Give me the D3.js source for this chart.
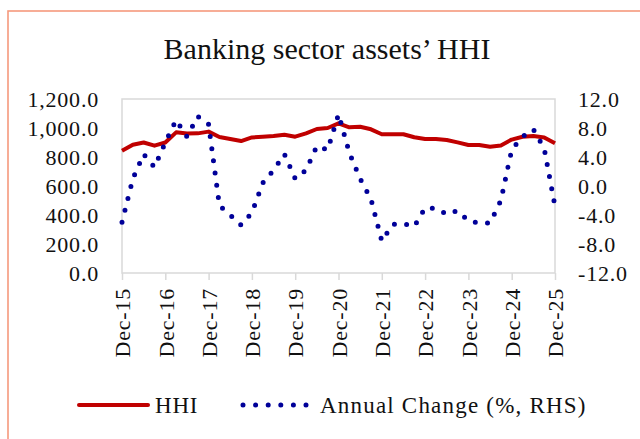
<!DOCTYPE html>
<html>
<head>
<meta charset="utf-8">
<script src="https://cdn.jsdelivr.net/npm/d3@7"></script>
<style>
  html, body { margin: 0; padding: 0; background: #fff; }
  text { font-family: "Liberation Serif", "Times New Roman", serif; fill: #111; }
</style>
</head>
<body>
<svg id="chart" width="640" height="439"></svg>
<script>
// Quarterly observations, Dec-15 .. Dec-25
const quarters = [
  "Dec-15","Mar-16","Jun-16","Sep-16","Dec-16","Mar-17","Jun-17","Sep-17",
  "Dec-17","Mar-18","Jun-18","Sep-18","Dec-18","Mar-19","Jun-19","Sep-19",
  "Dec-19","Mar-20","Jun-20","Sep-20","Dec-20","Mar-21","Jun-21","Sep-21",
  "Dec-21","Mar-22","Jun-22","Sep-22","Dec-22","Mar-23","Jun-23","Sep-23",
  "Dec-23","Mar-24","Jun-24","Sep-24","Dec-24","Mar-25","Jun-25","Sep-25",
  "Dec-25"
];

const hhi = [
  843, 885, 900, 878, 900, 970, 962, 963,
  975, 938, 924, 910, 935, 940, 945, 954,
  940, 963, 993, 1000, 1032, 1005, 1009, 991,
  957, 957, 957, 936, 924, 924, 917, 901,
  883, 883, 871, 880, 920, 940, 945, 935,
  894
];

const annualChange = [
  -5.0, 1.0, 4.4, 2.6, 6.0, 9.1, 6.8, 9.6,
  8.5, -2.7, -4.0, -5.4, -3.7, 0.4, 2.2, 4.4,
  1.0, 2.2, 5.5, 5.0, 9.9, 4.6, 1.0, -1.8,
  -7.6, -5.3, -5.2, -5.6, -3.0, -3.1, -3.9, -3.4,
  -4.8, -5.1, -5.1, -2.0, 5.0, 6.8, 7.8, 5.2,
  -2.8
];

const xTickLabels = ["Dec-15","Dec-16","Dec-17","Dec-18","Dec-19","Dec-20","Dec-21","Dec-22","Dec-23","Dec-24","Dec-25"];
const leftTicks = [0, 200, 400, 600, 800, 1000, 1200];
const rightTicks = [-12, -8, -4, 0, 4, 8, 12];

const svg = d3.select("#chart");
const plot = { left: 122, right: 555, top: 99, bottom: 273 };

// outer frame (only the left and top edges fall inside the picture)
svg.append("rect")
  .attr("x", 8).attr("y", 11)
  .attr("width", 700).attr("height", 500)
  .attr("fill", "none")
  .attr("stroke", "#F6997D")
  .attr("stroke-width", 1.6);

// title
svg.append("text")
  .attr("x", 327).attr("y", 59)
  .attr("text-anchor", "middle")
  .attr("font-size", 30)
  .text("Banking sector assets\u2019 HHI");

const x = d3.scalePoint().domain(quarters).range([plot.left, plot.right]);
const yLeft = d3.scaleLinear().domain([0, 1200]).range([plot.bottom, plot.top]);
const yRight = d3.scaleLinear().domain([-12, 12]).range([plot.bottom, plot.top]);

// plot area border
svg.append("rect")
  .attr("x", plot.left).attr("y", plot.top)
  .attr("width", plot.right - plot.left).attr("height", plot.bottom - plot.top)
  .attr("fill", "none")
  .attr("stroke", "#D9D9D9")
  .attr("stroke-width", 1.5);

// left axis labels
const fmtLeft = d3.format(",.1f");
svg.append("g").selectAll("text")
  .data(leftTicks)
  .join("text")
  .attr("x", 99)
  .attr("y", d => yLeft(d))
  .attr("dy", "0.35em")
  .attr("text-anchor", "end")
  .attr("font-size", 22)
  .attr("letter-spacing", 0.8)
  .text(d => fmtLeft(d));

// right axis labels
const fmtRight = d3.format(".1f");
svg.append("g").selectAll("text")
  .data(rightTicks)
  .join("text")
  .attr("x", 578)
  .attr("y", d => yRight(d))
  .attr("dy", "0.35em")
  .attr("font-size", 22)
  .attr("letter-spacing", 0.8)
  .text(d => fmtRight(d).replace("\u2212", "-"));

// bottom axis: ticks and rotated labels
const xAxis = d3.axisBottom(x)
  .tickValues(xTickLabels)
  .tickSize(7)
  .tickPadding(9);

const gx = svg.append("g")
  .attr("transform", `translate(0,${plot.bottom})`)
  .call(xAxis);
gx.select(".domain").remove();
gx.selectAll(".tick line").attr("stroke", "#D9D9D9").attr("stroke-width", 1.5);
gx.selectAll(".tick text")
  .attr("font-family", "Liberation Serif, serif")
  .attr("font-size", 22)
  .attr("letter-spacing", 0.8)
  .attr("fill", "#111")
  .attr("transform", "rotate(-90)")
  .attr("text-anchor", "end")
  .attr("x", -15)
  .attr("y", 0)
  .attr("dy", "0.35em");

// HHI line
const hhiLine = d3.line()
  .x((d, i) => x(quarters[i]))
  .y(d => yLeft(d));

svg.append("path")
  .datum(hhi)
  .attr("d", hhiLine)
  .attr("fill", "none")
  .attr("stroke", "#C00000")
  .attr("stroke-width", 4)
  .attr("stroke-linejoin", "round");

// annual change, round-dot line
const chgLine = d3.line()
  .x((d, i) => x(quarters[i]))
  .y(d => yRight(d));

svg.append("path")
  .datum(annualChange)
  .attr("d", chgLine)
  .attr("fill", "none")
  .attr("stroke", "#000099")
  .attr("stroke-width", 5)
  .attr("stroke-linecap", "round")
  .attr("stroke-dasharray", "0 12.3");

// legend
const legendY = 405;
svg.append("line")
  .attr("x1", 79).attr("x2", 148)
  .attr("y1", legendY).attr("y2", legendY)
  .attr("stroke", "#C00000")
  .attr("stroke-width", 4)
  .attr("stroke-linecap", "round");
svg.append("text")
  .attr("x", 155).attr("y", legendY)
  .attr("dy", "0.35em")
  .attr("font-size", 23)
  .attr("letter-spacing", 0.8)
  .text("HHI");

svg.append("line")
  .attr("x1", 243).attr("x2", 307)
  .attr("y1", legendY).attr("y2", legendY)
  .attr("stroke", "#000099")
  .attr("stroke-width", 5)
  .attr("stroke-linecap", "round")
  .attr("stroke-dasharray", "0 12.6");
svg.append("text")
  .attr("x", 320).attr("y", legendY)
  .attr("dy", "0.35em")
  .attr("font-size", 23)
  .attr("letter-spacing", 1.2)
  .text("Annual Change (%, RHS)");
</script>
</body>
</html>
